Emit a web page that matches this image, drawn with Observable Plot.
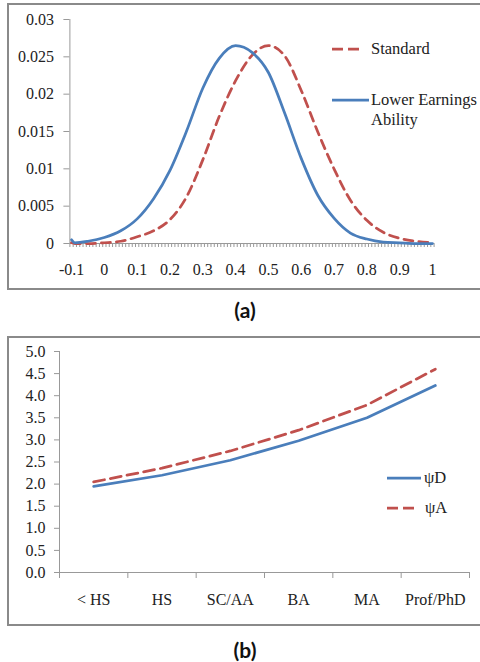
<!DOCTYPE html>
<html><head><meta charset="utf-8">
<script src="https://cdn.jsdelivr.net/npm/d3@7"></script>
<script src="https://cdn.jsdelivr.net/npm/@observablehq/plot@0.6"></script>
<style>
html,body{margin:0;padding:0;background:#fff;width:480px;height:662px;overflow:hidden;position:relative;}
.box{position:absolute;border:2px solid #8a8a8a;box-sizing:border-box;}
.panel{position:absolute;left:0;}
.cap{position:absolute;left:0;width:490px;text-align:center;font-family:Lato,"Open Sans",sans-serif;font-weight:bold;font-size:21px;line-height:22px;color:#111;}
.leg{position:absolute;font-family:"Liberation Serif",serif;font-size:16.5px;line-height:20px;color:#222;white-space:nowrap;}
.legline{position:absolute;}
</style></head><body>
<div class="box" style="left:7px;top:3px;width:520px;height:287px"></div>
<div id="a" class="panel" style="top:0"></div>
<div class="cap" style="top:299px">(a)</div>
<div class="box" style="left:7px;top:336px;width:520px;height:290px"></div>
<div id="b" class="panel" style="top:330px"></div>
<div class="cap" style="top:639px">(b)</div>

<svg class="legline" style="left:330px;top:44px" width="40" height="10"><line x1="2" y1="5" x2="31" y2="5" stroke="#c0504d" stroke-width="2.75" stroke-dasharray="11,5"/></svg>
<div class="leg" style="left:371px;top:39px">Standard</div>
<svg class="legline" style="left:330px;top:95px" width="40" height="10"><line x1="2" y1="5" x2="39" y2="5" stroke="#4a7ebb" stroke-width="2.75"/></svg>
<div class="leg" style="left:371px;top:90px">Lower Earnings<br>Ability</div>

<svg class="legline" style="left:385px;top:473px" width="40" height="10"><line x1="2" y1="5" x2="36" y2="5" stroke="#4a7ebb" stroke-width="2.75"/></svg>
<div class="leg" style="left:424px;top:468px">ψD</div>
<svg class="legline" style="left:385px;top:503px" width="40" height="10"><line x1="2" y1="5" x2="30" y2="5" stroke="#c0504d" stroke-width="2.75" stroke-dasharray="11,5"/></svg>
<div class="leg" style="left:425px;top:498px">ψA</div>

<script>
// ---------- Panel (a) data ----------
const xA = [-0.10, -0.09, -0.05, 0.00, 0.05, 0.10, 0.15, 0.20, 0.25, 0.30, 0.35, 0.40, 0.45, 0.50, 0.55, 0.60, 0.65, 0.70, 0.75, 0.80, 0.85, 0.90, 0.95, 1.00];
const lowerEarnings = [0.0005, 0.0001, 0.0003, 0.0008, 0.0017, 0.0033, 0.0060, 0.0098, 0.0150, 0.0208, 0.0248, 0.0265, 0.0256, 0.0229, 0.0174, 0.0114, 0.0065, 0.0034, 0.0014, 0.0006, 0.0002, 0.0001, 0.0000, 0.0000];
const standard = [0.0001, 0.0000, 0.0000, 0.0001, 0.0003, 0.0009, 0.0017, 0.0032, 0.0062, 0.0112, 0.0170, 0.0218, 0.0252, 0.0265, 0.0251, 0.0205, 0.0150, 0.0100, 0.0058, 0.0031, 0.0015, 0.0007, 0.0003, 0.0001];
const xTickLabelsA = ["-0.1", "0", "0.1", "0.2", "0.3", "0.4", "0.5", "0.6", "0.7", "0.8", "0.9", "1"];
const yTickLabelsA = ["0", "0.005", "0.01", "0.015", "0.02", "0.025", "0.03"];

// ---------- Panel (b) data ----------
const categories = ["< HS", "HS", "SC/AA", "BA", "MA", "Prof/PhD"];
const psiD = [1.95, 2.20, 2.54, 2.98, 3.50, 4.23];
const psiA = [2.05, 2.36, 2.75, 3.22, 3.79, 4.60];
const yTickLabelsB = ["0.0", "0.5", "1.0", "1.5", "2.0", "2.5", "3.0", "3.5", "4.0", "4.5", "5.0"];

const BLUE = "#4a7ebb", RED = "#c0504d";
const FONT = "Liberation Serif";

// ---- Chart (a) ----
const tA = xA.map((x, i) => ({x, low: lowerEarnings[i], std: standard[i]}));
const xLabelVals = xTickLabelsA.map(Number);
const yValsA = yTickLabelsA.map(Number);
const minorTicks = d3.range(0, 112).map(k => -0.105 + k * 0.01);

const chartA = Plot.plot({
  width: 480, height: 300,
  marginTop: 19, marginBottom: 57, marginLeft: 69.4, marginRight: 46.4,
  style: {fontFamily: FONT, fontSize: "16px", background: "transparent", overflow: "visible"},
  x: {domain: [-0.105, 1.005], axis: null},
  y: {domain: [0, 0.03], axis: null},
  marks: [
    Plot.axisX({ticks: minorTicks, tickFormat: () => "", tickSize: 4, stroke: "#999", label: null}),
    Plot.ruleY([0], {stroke: "#999", strokeWidth: 1}),
    Plot.ruleX([-0.105], {stroke: "#999", strokeWidth: 1}),
    Plot.axisX({ticks: xLabelVals, tickFormat: (d, i) => xTickLabelsA[i], tickSize: 0, tickPadding: 20, fill: "#222", fontSize: 16, label: null}),
    Plot.axisY({ticks: yValsA, tickFormat: (d, i) => yTickLabelsA[i], tickSize: 6, tickPadding: 10, stroke: "#999", fill: "#222", fontSize: 16, label: null}),
    Plot.line(tA, {x: "x", y: "std", stroke: RED, strokeWidth: 2.75, strokeDasharray: "9,6", curve: "monotone-x"}),
    Plot.line(tA, {x: "x", y: "low", stroke: BLUE, strokeWidth: 2.75, curve: "monotone-x"})
  ]
});
document.getElementById("a").appendChild(chartA);

// ---- Chart (b) ----
const tB = categories.map((c, i) => ({i, d: psiD[i], a: psiA[i]}));
const yValsB = yTickLabelsB.map(Number);
const chartB = Plot.plot({
  width: 480, height: 300,
  marginTop: 21, marginBottom: 58, marginLeft: 59, marginRight: 11,
  style: {fontFamily: FONT, fontSize: "16px", background: "transparent", overflow: "visible"},
  x: {domain: [-0.5, categories.length - 0.5], axis: null},
  y: {domain: [0, 5], axis: null},
  marks: [
    Plot.ruleY([0], {stroke: "#999", strokeWidth: 1}),
    Plot.ruleX([-0.5], {stroke: "#999", strokeWidth: 1}),
    Plot.axisX({ticks: d3.range(0, categories.length + 1).map(k => k - 0.5), tickFormat: () => "", tickSize: 6, stroke: "#999", label: null}),
    Plot.axisX({ticks: categories.map((c, i) => i), tickFormat: i => categories[i], tickSize: 0, tickPadding: 21, fill: "#222", fontSize: 16, label: null}),
    Plot.axisY({ticks: yValsB, tickFormat: (d, i) => yTickLabelsB[i], tickSize: 5, tickPadding: 9, stroke: "#999", fill: "#222", fontSize: 16, label: null}),
    Plot.line(tB, {x: "i", y: "a", stroke: RED, strokeWidth: 2.75, strokeDasharray: "11,6"}),
    Plot.line(tB, {x: "i", y: "d", stroke: BLUE, strokeWidth: 2.75})
  ]
});
document.getElementById("b").appendChild(chartB);
</script>
</body></html>
